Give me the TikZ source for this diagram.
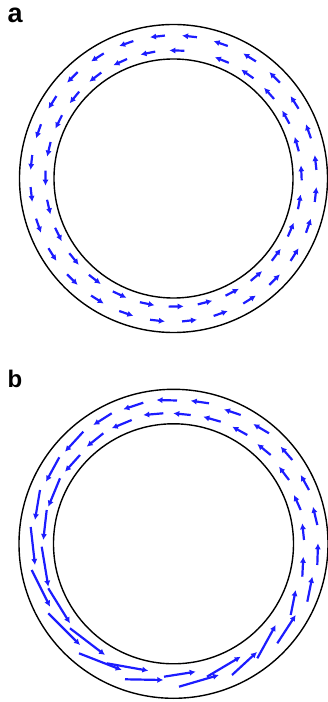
\documentclass[tikz,border=0pt]{standalone}
\usepackage{fontspec}
\setmainfont{Liberation Sans}
\usetikzlibrary{arrows.meta}
\definecolor{vec}{RGB}{28,28,255}
\begin{document}
\begin{tikzpicture}[x=1pt,y=1pt,
  ring/.style={line width=1.4pt, black},
  vecarrow/.style={line width=2.2pt, vec, -{Latex[length=6pt,width=6.2pt]}},
  lbl/.style={inner sep=0pt, anchor=base west}]
\useasboundingbox (0,0) rectangle (328,702);
% ---------- panel a ----------
\node[lbl, font=\fontsize{27}{27}\selectfont\bfseries] (la) at (7.5,679) {a};
\coordinate (ca) at (173.5,523.5);
\draw[ring] (ca) circle[radius=154];
\draw[ring] (ca) circle[radius=119.5];
\foreach \k in {0,...,27}{
  \pgfmathsetmacro{\t}{(\k+0.5)*360/28}
  \begin{scope}[shift={(ca)},rotate=\t]
    \draw[vecarrow] (143,-7.5) -- (143,7.5);
  \end{scope}
}
\foreach \k in {0,...,26}{
  \pgfmathsetmacro{\t}{88.5+13.05*\k}
  \begin{scope}[shift={(ca)},rotate=\t]
    \draw[vecarrow] (128,-7.5) -- (128,7.5);
  \end{scope}
}
% ---------- panel b ----------
\node[lbl, font=\fontsize{24}{24}\selectfont\bfseries] (lb) at (7.5,314) {b};
\coordinate (cb) at (173.5,158.2);
\draw[ring] (cb) circle[radius=154.5];
\draw[ring] (cb) circle[radius=120];
% outer ring
\foreach \xa/\ya/\xb/\yb in {
  177/301.5/156.5/302, 209/298.7/190.7/301.3, 240.7/287/224/292.7,
  269/268.7/253.3/278, 292.3/242/280.7/255.3, 309/212/300.7/227,
  317.3/177/313/195.3, 317.3/137/318/158.7, 307.3/100.3/312.3/125.3,
  277.3/58.7/295.7/87, 232/27/257/50, 179/15.3/219/27,
  125/22.7/163.3/22, 79/48.7/121.7/32, 48.3/88.7/80/57,
  31.7/132/50/95.3, 30.7/175/35/137, 40/212/35/182,
  59.3/244.7/46/220.3, 83.3/270.3/65/250.3, 111.7/288.7/93.3/277,
  143.3/299.3/123.3/292.7}
  \draw[vecarrow] (\xa,\ya) -- (\xb,\yb);
% inner ring
\foreach \xa/\ya/\xb/\yb in {
  190.7/287/173.3/288.7, 163.3/288.7/143.3/287, 131.7/282/111.7/273.7,
  103.3/268.7/86.7/255.3, 80/247/65/230.3, 60/223.7/48.3/195.3,
  46.7/192/43.3/162, 41.7/155.3/48.3/115.3, 48.3/113.7/70/78.7,
  70/73.7/105/47, 106.7/38.7/148.3/31.3, 164/25.3/195.7/30.3,
  207/25.3/240.7/45.3, 257.3/43.7/275.7/77, 290.7/87/295.7/112,
  302.3/125.3/303.3/145.3, 304/162/302.3/178.7, 300.7/192/294/207,
  289/222/279/235.3, 270.7/247/257.3/258, 247.3/267/232.3/275.3,
  220.7/280.3/203.3/285.3}
  \draw[vecarrow] (\xa,\ya) -- (\xb,\yb);
\end{tikzpicture}
\end{document}
